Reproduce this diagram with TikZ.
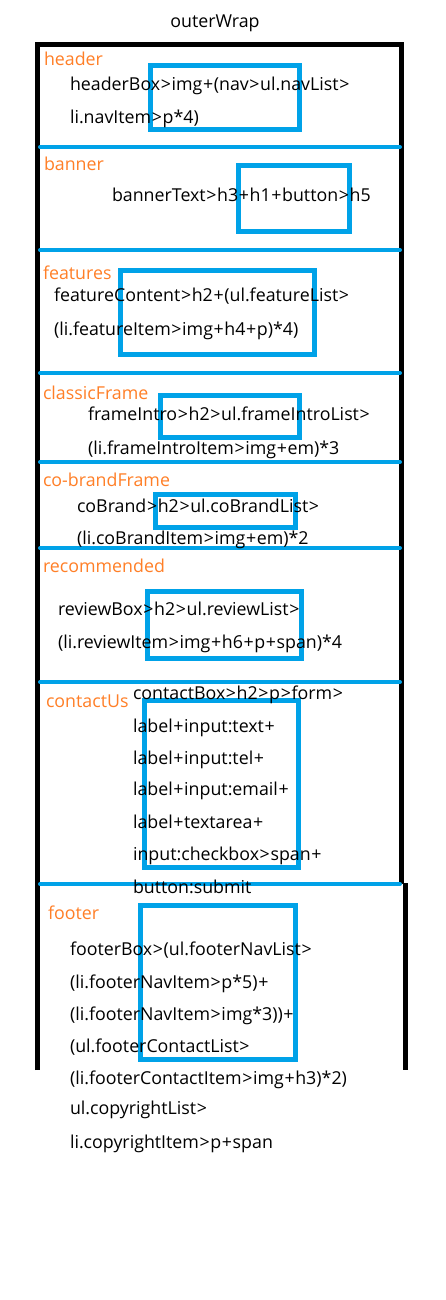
\documentclass[tikz,border=0pt]{standalone}
\usepackage{fontspec}
\setmainfont{Open Sans}
\definecolor{lineblue}{RGB}{0,162,232}
\definecolor{labelorange}{RGB}{255,127,39}
\newcommand\gtm{\makebox[0.64em]{>}}
\newcommand\plm{\makebox[0.64em]{+}}
\begin{document}
\begin{tikzpicture}[x=1pt,y=-1pt,
  every node/.style={inner sep=0pt,outer sep=0pt,anchor=base west,font=\fontsize{17.8}{20}\selectfont},
  sect/.style={text=labelorange},
  code/.style={text=black},
  sepline/.style={draw=lineblue,line width=4pt,line cap=round},
  bluebox/.style={draw=lineblue,line width=5pt},
  wall/.style={draw=black,line width=5pt,line cap=butt,line join=miter}]
\useasboundingbox (0,0) rectangle (445,1300);
\fill[white] (0,0) rectangle (445,1300);
% title
\node[anchor=base] (title) at (215,27.5) {outerWrap};
% outer frame
\draw[wall] (37.5,1070) -- (37.5,44.5) -- (401.8,44.5) -- (401.8,884);
\draw[wall] (405.5,883) -- (405.5,1070);
% separators
\foreach \yy/\nm in {147/s1,250/s2,373/s3,462/s4,548/s5,682/s6,884/s7}
  \draw[sepline] (40,\yy) coordinate (\nm a) -- (400,\yy) coordinate (\nm b);
% blue boxes
\draw[bluebox] (150.5,65.5) rectangle (299.5,130);
\draw[bluebox] (238.5,165.5) rectangle (349.5,231.5);
\draw[bluebox] (120.5,270.5) rectangle (314.5,354.5);
\draw[bluebox] (160.5,395.5) rectangle (299.5,437.5);
\draw[bluebox] (155.5,494.5) rectangle (295.5,527.5);
\draw[bluebox] (147.5,591.5) rectangle (301.5,658.5);
\draw[bluebox] (144.5,700.5) rectangle (298.5,867.5);
\draw[bluebox] (140.5,905.5) rectangle (295.5,1059.5);
% section labels
\node[sect] (lheader) at (44,66) {header};
\node[sect] (lbanner) at (44,171) {banner};
\node[sect] (lfeatures) at (43,279) {features};
\node[sect] (lclassic) at (43,399) {classicFrame};
\node[sect] (lcobrand) at (43,486) {co-brandFrame};
\node[sect] (lrecommended) at (43,572) {recommended};
\node[sect] (lcontact) at (46,707) {contactUs};
\node[sect] (lfooter) at (48,919) {footer};
% code texts
\node[code] (h1) at (70,90.5) {headerBox\gtm img\plm(nav\gtm ul.navList\gtm};
\node[code] (h2) at (70,123.5) {li.navItem\gtm p*4)};
\node[code] (b1) at (112,201.5) {bannerText\gtm h3\plm h1\plm button\gtm h5};
\node[code] (f1) at (54,301) {featureContent\gtm h2\plm(ul.featureList\gtm};
\node[code] (f2) at (54,335) {(li.featureItem\gtm img\plm h4\plm p)*4)};
\node[code] (c1) at (88,420) {frameIntro\gtm h2\gtm ul.frameIntroList\gtm};
\node[code] (c2) at (88,454) {(li.frameIntroItem\gtm img\plm em)*3};
\node[code] (cb1) at (77,512) {coBrand\gtm h2\gtm ul.coBrandList\gtm};
\node[code] (cb2) at (77,544) {(li.coBrandItem\gtm img\plm em)*2};
\node[code] (r1) at (58,615) {reviewBox\gtm h2\gtm ul.reviewList\gtm};
\node[code] (r2) at (58,648) {(li.reviewItem\gtm img\plm h6\plm p\plm span)*4};
\node[code] (k1) at (133,699) {contactBox\gtm h2\gtm p\gtm form\gtm};
\node[code] (k2) at (133,732) {label\plm input:text\plm};
\node[code] (k3) at (133,764) {label\plm input:tel\plm};
\node[code] (k4) at (133,795) {label\plm input:email\plm};
\node[code] (k5) at (133,828) {label\plm textarea\plm};
\node[code] (k6) at (133,860) {input:checkbox\gtm span\plm};
\node[code] (k7) at (133,893) {button:submit};
\node[code] (ft1) at (70,955) {footerBox\gtm(ul.footerNavList\gtm};
\node[code] (ft2) at (70,988) {(li.footerNavItem\gtm p*5)\plm};
\node[code] (ft3) at (70,1020) {(li.footerNavItem\gtm img*3))\plm};
\node[code] (ft4) at (70,1052) {(ul.footerContactList\gtm};
\node[code] (ft5) at (70,1084) {(li.footerContactItem\gtm img\plm h3)*2)};
\node[code] (ft6) at (70,1114) {ul.copyrightList\gtm};
\node[code] (ft7) at (70,1148) {li.copyrightItem\gtm p\plm span};
\end{tikzpicture}
\end{document}
